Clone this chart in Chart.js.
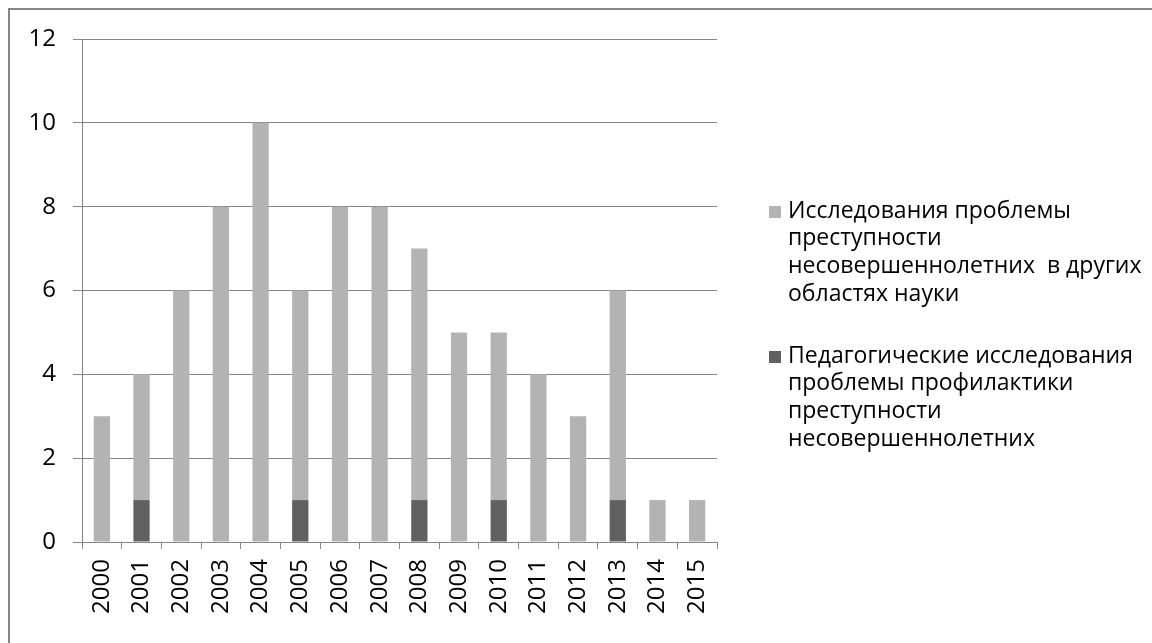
<!DOCTYPE html>
<html>
<head>
<meta charset="utf-8">
<script src="https://cdn.jsdelivr.net/npm/chart.js@4.4.1/dist/chart.umd.min.js"></script>
<style>
  html, body { margin: 0; padding: 0; background: #fff; }
  #wrap { width: 1152px; height: 643px; position: relative; }
</style>
</head>
<body>
<div id="wrap"><canvas id="chart" width="1152" height="643"></canvas></div>
<script>
const years = ['2000', '2001', '2002', '2003', '2004', '2005', '2006', '2007',
  '2008', '2009', '2010', '2011', '2012', '2013', '2014', '2015'];

// Педагогические исследования (bottom, dark)
const pedagogical = [0, 1, 0, 0, 0, 1, 0, 0, 1, 0, 1, 0, 0, 1, 0, 0];
// Исследования в других областях науки (top, light)
const otherFields = [3, 3, 6, 8, 10, 5, 8, 8, 6, 5, 4, 4, 3, 5, 1, 1];

const yTicks = [0, 2, 4, 6, 8, 10, 12];

// legend text as it wraps in the original
const otherLabel = ['Исследования проблемы', 'преступности', 'несовершеннолетних  в других', 'областях науки'];
const pedLabel = ['Педагогические исследования', 'проблемы профилактики', 'преступности', 'несовершеннолетних'];

const FONT = '"Open Sans", sans-serif';
const gridColor = '#868686';

// outer frame and wrapped legend
const framePlugin = {
  id: 'frame',
  beforeDraw(chart) {
    const ctx = chart.ctx;
    ctx.save();
    ctx.strokeStyle = '#868686';
    ctx.lineWidth = 2;
    ctx.beginPath();
    ctx.moveTo(9, 643);
    ctx.lineTo(9, 9);
    ctx.lineTo(1152, 9);
    ctx.stroke();
    ctx.restore();
  },
  afterDraw(chart) {
    const ctx = chart.ctx;
    const ds = chart.data.datasets;
    // legend reversed: light series first
    const groups = [
      { color: ds[1].backgroundColor, lines: otherLabel, y: 211 },
      { color: ds[0].backgroundColor, lines: pedLabel, y: 356 }
    ];
    ctx.save();
    ctx.font = '23px ' + FONT;
    ctx.textBaseline = 'middle';
    groups.forEach(g => {
      ctx.fillStyle = g.color;
      ctx.fillRect(769, g.y - 5, 12, 12);
      ctx.fillStyle = '#000';
      g.lines.forEach((t, i) => ctx.fillText(t, 788, g.y + i * 27.7));
    });
    ctx.restore();
  }
};

new Chart(document.getElementById('chart'), {
  type: 'bar',
  data: {
    labels: years,
    datasets: [
      { label: pedLabel.join(' '), data: pedagogical, backgroundColor: '#606060' },
      { label: otherLabel.join(' '), data: otherFields, backgroundColor: '#b3b3b3' }
    ]
  },
  options: {
    responsive: false,
    animation: false,
    layout: { padding: { top: 39, right: 435, bottom: 0, left: 0 } },
    datasets: { bar: { categoryPercentage: 1, barPercentage: 0.41 } },
    scales: {
      x: {
        stacked: true,
        afterFit: s => { s.height = 101; },
        grid: { offset: true, drawOnChartArea: false, color: gridColor, tickLength: 7 },
        border: { color: gridColor },
        ticks: { minRotation: 90, maxRotation: 90, color: '#000', padding: 10, font: { family: FONT, size: 24 } }
      },
      y: {
        stacked: true,
        min: 0,
        max: 12,
        afterFit: s => { s.width = 82; },
        afterBuildTicks: s => { s.ticks = yTicks.map(v => ({ value: v })); },
        grid: { color: gridColor, tickLength: 9 },
        border: { color: gridColor },
        ticks: { color: '#000', padding: 17, font: { family: FONT, size: 24 } }
      }
    },
    plugins: {
      legend: { display: false },
      tooltip: { enabled: false }
    }
  },
  plugins: [framePlugin]
});
</script>
</body>
</html>
